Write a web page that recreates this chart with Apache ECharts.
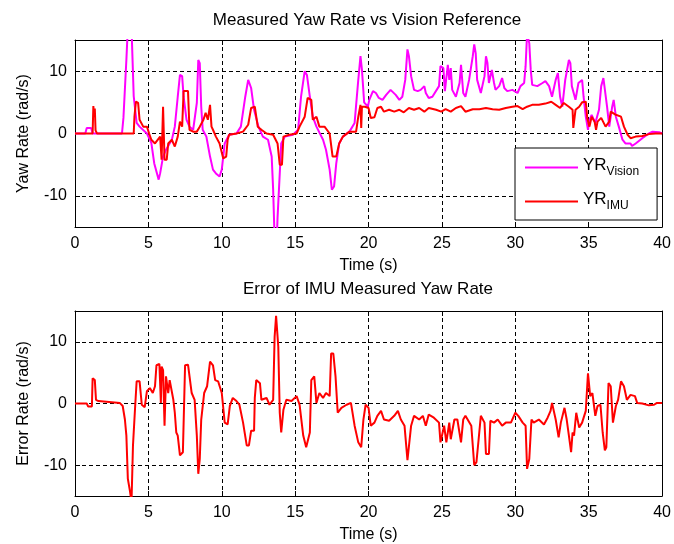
<!DOCTYPE html>
<html>
<head>
<meta charset="utf-8">
<script src="https://cdn.jsdelivr.net/npm/echarts@6/dist/echarts.min.js"></script>
<style>html,body{margin:0;padding:0;background:#fff}#c{width:674px;height:544px}</style>
</head>
<body>
<div id="c"></div>
<script>
// ---- data ----
var xTicks = [0, 5, 10, 15, 20, 25, 30, 35, 40];
var yTicks = [-10, 0, 10];

var tVision = [0,0.7,0.8,1.1,1.2,3.2,3.3,3.5,3.6,3.85,4.0,4.2,4.4,4.9,5.2,5.4,5.7,5.8,6.0,6.2,6.6,6.8,7.0,7.15,7.3,7.4,7.6,7.8,8.05,8.3,8.4,8.5,8.6,8.7,8.95,9.2,9.4,9.6,9.85,10.0,10.2,10.5,11,11.3,11.6,11.8,12.0,12.2,12.5,12.8,13.15,13.4,13.5,13.6,13.75,13.8,13.95,14.05,14.3,14.85,15.2,15.4,15.65,15.8,16.0,16.2,16.45,16.9,17.1,17.35,17.5,17.65,17.8,18.0,18.25,18.7,19.05,19.3,19.45,19.55,19.7,19.95,20.05,20.3,20.5,20.7,20.95,21.2,21.5,21.85,22.1,22.3,22.5,22.65,22.75,22.9,23.1,23.35,23.55,23.8,23.9,24.1,24.35,24.8,24.9,25.1,25.2,25.4,25.5,25.6,25.7,25.95,26.2,26.3,26.45,26.6,26.85,27.1,27.2,27.3,27.4,27.65,27.9,28.0,28.1,28.2,28.4,28.55,28.65,28.9,29.1,29.25,29.45,29.8,30.15,30.35,30.6,30.7,30.8,30.95,31.05,31.15,31.5,31.85,32.05,32.3,32.5,32.75,32.9,33.05,33.2,33.4,33.65,33.75,33.85,34.1,34.3,34.55,34.65,34.8,34.95,35.05,35.2,35.45,35.7,35.85,36.0,36.1,36.25,36.4,36.6,36.7,36.85,37.05,37.3,37.5,37.85,37.95,38.2,38.65,39.1,39.35,39.8,40];
var yVision = [0,0,0.9,0.9,0,0,2.5,11.8,17,17,6,1.7,1.1,0,-1.5,-4.8,-7.4,-6.4,-3.7,-2.6,-1,1.1,5.9,9.4,9.2,5.9,2.2,1.1,0.6,4.9,11.8,11.3,4.3,0.6,-0.5,-3.7,-5.8,-6.4,-6.9,-5.8,-1.6,-0.2,0,1.1,5.9,8.6,7.3,3.8,1.1,-0.5,-1,-3.7,-9,-17,-17,-13.5,-6.4,-1.6,-0.5,-0.2,0.6,5.9,10,9.4,5.9,2.7,1.1,-1,-2.6,-5.8,-9,-8.5,-4.8,-1.6,-0.5,0.3,1.7,8.6,12.4,10.2,5.0,4.3,5.4,6.8,6.5,5.7,5.4,6.2,7.0,6.2,5.4,5.9,8.6,13.5,12.4,9.2,7.0,6.8,7.0,7.6,6.5,5.7,5.9,7.6,10.8,10.5,6.8,11,8.6,10.5,7,5.9,8.1,11,6.5,5.9,8.6,12.4,14.3,12.9,8.6,6.5,9.2,12.4,11.3,8.1,10.2,8.1,7.0,7.6,8.9,7.3,6.8,7.0,6.5,7.6,8.1,10.8,16,14.5,10.2,7.8,7.6,8.1,8.4,7.6,5.9,8.6,9.7,5.9,4.3,8.6,11.8,11.3,7.6,5.4,8.1,8.6,5.9,2.7,0.6,2.2,3.0,1.7,3.8,7.6,8.9,8.6,4.3,1.1,4.3,5.4,2.7,1.1,-1.0,-1.6,-1.6,-2.0,-1.6,-0.75,0,0.3,0.2,0];

var tImu = [0,1.2,1.25,1.3,1.35,1.4,1.5,4.0,4.05,4.15,4.3,4.4,4.65,4.9,5.05,5.2,5.45,5.8,5.9,6.0,6.1,6.25,6.35,6.6,6.8,7.0,7.15,7.3,7.4,7.7,7.8,8.05,8.3,8.5,8.75,8.9,9.05,9.2,9.3,9.4,9.6,9.85,10.1,10.3,10.4,10.5,11,11.45,11.8,12.0,12.25,12.45,12.7,13.05,13.5,13.8,13.95,14.1,14.2,14.6,15.1,15.3,15.65,15.85,16.1,16.2,16.45,16.65,17.0,17.35,17.55,17.8,18.0,18.25,18.7,19.15,19.3,19.45,19.5,19.55,19.75,20.0,20.15,20.4,20.6,20.85,21.05,21.4,21.75,22.1,22.4,22.75,23.1,23.45,23.8,24.1,24.6,24.95,25.25,25.6,25.95,26.3,26.6,27.1,27.55,28.0,28.45,28.9,29.35,29.8,30.15,30.5,30.8,31.15,31.6,32.05,32.45,32.75,33.05,33.3,33.65,33.9,33.95,34.05,34.1,34.35,34.55,34.8,34.9,35.05,35.2,35.4,35.5,35.6,35.85,36.15,36.4,36.5,36.85,37.2,37.4,37.65,37.85,38.2,38.65,39.1,39.55,40];
var yImu = [0,0,4.4,3.0,4.0,0.5,0,0,2.7,5.1,4.9,2.2,1.1,1.1,0,-1,-1.6,-0.5,-4.2,4.3,-4.2,-4.2,-1.6,-1,-2.1,-0.5,1.9,1.1,6.8,6.8,0.6,0.3,0.3,1.1,2.2,3.3,2.2,4.6,1.1,0.6,-0.5,-1.6,-4,-3.7,-1,-0.2,0,0.3,1.4,4.1,4.3,1.1,0.6,0,-0.2,-1.6,-5.0,-5,-0.5,-0.2,0,1.1,2.7,5.7,5.4,2.2,2.7,1.1,1.1,0,-3.7,-3.7,-1.6,-0.5,0.3,0.3,2.7,4.6,0.9,4.3,4.3,4.1,2.5,2.6,4.1,4.3,3.5,3.8,3.5,3.8,3.4,4.1,3.8,4.1,3.5,4.1,3.8,3.5,3.9,3.5,4.1,4.4,3.5,3.9,3.9,4.1,3.9,3.8,4.1,4.3,4.4,3.9,4.3,4.6,4.6,4.8,5.1,4.6,4.1,4.9,4.3,3.8,0.9,0.9,3.8,4.3,5.0,5.1,2.5,1.1,2.7,1.9,0.6,1.9,2.5,1.1,1.9,3.5,3.0,2.7,1.1,-0.2,-0.75,-0.5,-0.4,-0.1,0,0];

var tErr = [0,0.8,0.9,1.15,1.2,1.35,1.43,1.6,1.7,3.05,3.25,3.4,3.5,3.6,3.75,3.85,3.95,4.1,4.2,4.4,4.55,4.75,4.9,5.1,5.3,5.45,5.55,5.75,5.85,5.9,6.0,6.1,6.2,6.35,6.45,6.7,6.8,6.9,7.0,7.15,7.35,7.5,7.7,7.95,8.15,8.3,8.4,8.5,8.6,8.8,9.0,9.2,9.4,9.55,9.75,10.0,10.2,10.4,10.55,10.75,11.0,11.2,11.45,11.7,11.85,12.0,12.2,12.25,12.35,12.6,12.7,13.05,13.25,13.5,13.6,13.7,13.85,13.95,14.05,14.2,14.4,14.75,15.1,15.3,15.55,15.75,16.0,16.1,16.3,16.45,16.65,16.9,17.1,17.35,17.45,17.6,17.75,17.9,18.15,18.5,18.8,19.05,19.3,19.5,19.65,19.8,20.0,20.15,20.4,20.6,20.85,21.05,21.4,21.75,22.0,22.2,22.45,22.65,22.75,22.9,23.1,23.45,23.7,23.9,24.1,24.45,24.8,24.9,25.15,25.3,25.5,25.6,25.85,26.05,26.3,26.45,26.6,27.0,27.2,27.35,27.5,27.65,27.9,28.0,28.2,28.3,28.55,28.8,29.1,29.35,29.7,30.0,30.2,30.5,30.7,30.8,30.95,31.1,31.25,31.6,31.95,32.2,32.4,32.5,32.75,32.95,33.1,33.35,33.5,33.65,33.8,33.9,34.0,34.15,34.35,34.55,34.8,34.95,35.1,35.25,35.45,35.6,35.8,35.95,36.1,36.2,36.35,36.5,36.65,36.85,37.0,37.2,37.4,37.6,37.85,38.15,38.3,38.65,39.1,39.45,39.65,40];
var yErr = [0,0,-0.5,-0.5,4.1,3.8,0.6,0.4,0.1,0.1,-0.4,-2.6,-5.2,-12.2,-14.3,-16,-6.8,-0.4,3.6,3.6,-0.2,-0.6,2.0,2.5,1.7,2.8,6.2,6.4,0.1,6.0,5.4,-3.6,4.4,1.7,3.8,0.6,-1.5,-4.7,-5.2,-8.4,-7.9,6.2,6.3,1.7,0.6,-5.2,-11.4,-9.0,-2.6,1.7,2.8,6.8,6.2,3.8,3.6,1.7,-3.1,-3.4,-0.4,0.9,0.4,-0.2,-3.1,-6.8,-6.8,-4.4,-4.4,0.9,3.8,3.3,0.6,0.9,-0.2,0.6,10.8,14.2,9.2,-1.5,-4.7,-1.0,0.6,0.4,1.2,-0.2,-5.2,-7.1,-4.7,3.8,4.4,0.1,1.7,0.9,1.7,1.2,8.1,8.1,4.4,-1.5,-0.7,-0.2,0.1,-3.6,-6.3,-7.1,-2.6,-0.2,-0.7,-3.6,-3.1,-2.0,-1.2,-2.6,-2.8,-2.0,-1.2,-2.6,-3.6,-9.2,-9.0,-3.6,-2.0,-2.6,-2.0,-3.6,-1.8,-2.3,-3.1,-6.3,-3.6,-6.3,-3.1,-5.8,-2.6,-2.6,-6.3,-2.6,-2.0,-3.6,-10.0,-9.5,-5.8,-2.0,-3.1,-8.2,-8.2,-2.8,-3.1,-2.6,-3.6,-3.1,-3.1,-1.5,-2.0,-3.1,-3.6,-10.6,-9.0,-2.6,-3.1,-2.6,-3.4,-2.3,-1.2,0.1,-2.6,-5.5,-3.1,-0.7,-2.6,-5.2,-7.9,-4.7,-5.2,-1.5,-3.9,-3.1,-1.2,4.9,1.2,1.7,-2.0,-0.4,-0.2,-4.7,-7.6,-7.1,3.3,2.8,-3.1,-0.4,0.6,3.6,2.8,0.6,1.4,1.2,0.1,0,-0.3,-0.2,0.1,0.1];

function pairs(t, y) { return t.map(function (v, i) { return [v, y[i]]; }); }

var FONT = '"Liberation Sans", Arial, sans-serif';
var BLACK = '#000';

function xAx(grid, pos, main) {
  return {
    type: 'value', gridIndex: grid, position: pos, min: 0, max: 40, interval: 5,
    axisLine: { show: true, onZero: false, lineStyle: { color: BLACK, width: 1 } },
    axisTick: { show: true, inside: true, length: 5, lineStyle: { color: BLACK } },
    axisLabel: { show: main, color: BLACK, fontSize: 16, fontFamily: FONT, margin: 9 },
    splitLine: { show: main, lineStyle: { color: BLACK, type: [4, 3], width: 1 } },
    name: main ? 'Time (s)' : '', nameLocation: 'middle', nameGap: 31,
    nameTextStyle: { color: BLACK, fontSize: 16, fontFamily: FONT }
  };
}
function yAx(grid, pos, main, name) {
  return {
    type: 'value', gridIndex: grid, position: pos, min: -15, max: 15, interval: 5,
    axisLine: { show: true, onZero: false, lineStyle: { color: BLACK, width: 1 } },
    axisTick: { show: true, inside: true, length: 5, lineStyle: { color: BLACK }, customValues: yTicks },
    axisLabel: { show: main, color: BLACK, fontSize: 16, fontFamily: FONT, margin: 8, customValues: yTicks },
    splitLine: { show: main, lineStyle: { color: BLACK, type: [4, 3], width: 1 } },
    name: main ? name : '', nameLocation: 'middle', nameGap: 43,
    nameTextStyle: { color: BLACK, fontSize: 16, fontFamily: FONT }
  };
}

var chart = echarts.init(document.getElementById('c'), null, { renderer: 'canvas' });
chart.setOption({
  animation: false,
  backgroundColor: '#fff',
  title: [
    { text: 'Measured Yaw Rate vs Vision Reference', left: 367, top: 12, textAlign: 'center', padding: 0,
      textStyle: { color: BLACK, fontSize: 17, fontWeight: 'normal', fontFamily: FONT } },
    { text: 'Error of IMU Measured Yaw Rate', left: 368, top: 281, textAlign: 'center', padding: 0,
      textStyle: { color: BLACK, fontSize: 17, fontWeight: 'normal', fontFamily: FONT } }
  ],
  grid: [
    { left: 75, top: 40, width: 589, height: 187, containLabel: false },
    { left: 75, top: 311, width: 589, height: 187, containLabel: false }
  ],
  xAxis: [xAx(0, 'bottom', true), xAx(0, 'top', false), xAx(1, 'bottom', true), xAx(1, 'top', false)],
  yAxis: [yAx(0, 'left', true, 'Yaw Rate (rad/s)'), yAx(0, 'right', false, ''),
          yAx(1, 'left', true, 'Error Rate (rad/s)'), yAx(1, 'right', false, '')],
  legend: {
    orient: 'vertical', left: 515, top: 148,
    backgroundColor: '#fff', borderColor: BLACK, borderWidth: 1, borderRadius: 0,
    padding: [9, 18, 8, 10], itemWidth: 53, itemHeight: 2, itemGap: 13,
    icon: 'rect',
    data: ['vision', 'imu'],
    formatter: function (n) { return n === 'vision' ? '{a|YR}{b|Vision}' : '{a|YR}{b|IMU}'; },
    textStyle: {
      color: BLACK, fontFamily: FONT,
      rich: {
        a: { fontSize: 17, color: BLACK, fontFamily: FONT, verticalAlign: 'top', lineHeight: 20 },
        b: { fontSize: 12, color: BLACK, fontFamily: FONT, verticalAlign: 'top', padding: [9, 0, 0, 0] }
      }
    }
  },
  series: [
    { name: 'vision', type: 'line', xAxisIndex: 0, yAxisIndex: 0, data: pairs(tVision, yVision),
      symbol: 'none', color: '#ff00ff', lineStyle: { color: '#ff00ff', width: 2 }, clip: true },
    { name: 'imu', type: 'line', xAxisIndex: 0, yAxisIndex: 0, data: pairs(tImu, yImu),
      symbol: 'none', color: '#ff0000', lineStyle: { color: '#ff0000', width: 2 }, clip: true },
    { name: 'error', type: 'line', xAxisIndex: 2, yAxisIndex: 2, data: pairs(tErr, yErr),
      symbol: 'none', color: '#ff0000', lineStyle: { color: '#ff0000', width: 2 }, clip: true }
  ]
});
</script>
</body>
</html>
